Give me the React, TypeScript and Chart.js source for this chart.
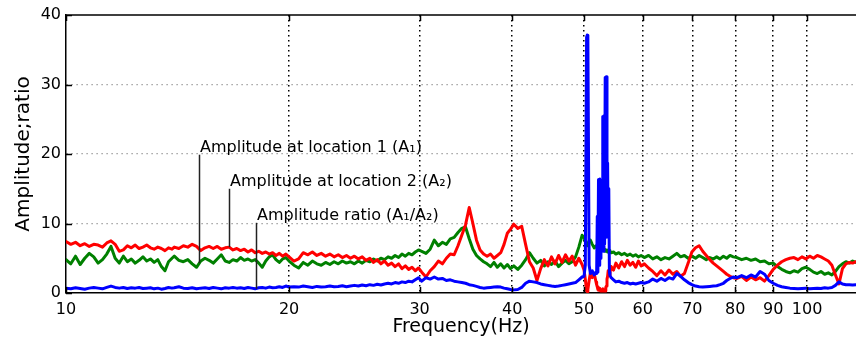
import React, { useEffect, useRef } from 'react';
import { Chart, registerables } from 'chart.js';

Chart.register(...registerables);

// Frequency samples (Hz), shared by all three series
const freq = [
  10, 10.15, 10.3, 10.45, 10.6, 10.75, 10.9, 11.05, 11.2, 11.35, 11.5, 11.65, 11.8, 11.95, 12.1, 12.25, 12.4, 12.55, 12.7, 12.85, 13, 13.15, 13.3, 13.45, 13.6, 13.75, 13.9,
  14, 14.2, 14.4, 14.6, 14.8, 15, 15.2, 15.4, 15.6, 15.8, 16, 16.2, 16.4, 16.6, 16.8, 17, 17.2, 17.4, 17.6, 17.8, 18, 18.2, 18.4, 18.6, 18.8, 19, 19.2, 19.4, 19.6, 19.8, 20,
  20.3, 20.6, 20.9, 21.2, 21.5, 21.8, 22.1, 22.4, 22.7, 23, 23.3, 23.6, 23.9, 24.2, 24.5, 24.8, 25.1, 25.4, 25.7, 26, 26.3, 26.6, 26.9, 27.2, 27.5, 27.8, 28.1, 28.4, 28.7, 29, 29.3, 29.6, 29.9,
  30.2, 30.6, 31, 31.4, 31.8, 32.2, 32.6, 33, 33.4, 33.8, 34.2, 34.6, 35, 35.4, 35.8, 36.2, 36.6, 37, 37.4, 37.8, 38.2, 38.6, 39, 39.4, 39.8,
  40.2, 40.7, 41.2, 41.7, 42.2, 42.7, 43.2, 43.7, 44.2, 44.7, 45.2, 45.7, 46.2, 46.7, 47.2, 47.7, 48.2, 48.7, 49.2, 49.7,
  50, 50.2, 50.4, 50.5, 50.6, 50.8, 51, 51.3, 51.6, 51.9,
  52, 52.1, 52.2, 52.3, 52.4, 52.5, 52.6, 52.7, 52.8, 52.9, 53, 53.1, 53.2, 53.3, 53.4, 53.5, 53.6, 53.7, 53.8, 53.9, 54, 54.1, 54.2,
  54.4, 54.8, 55.2,
  55.7, 56.2, 56.7, 57.2, 57.7, 58.2, 58.7, 59.2, 59.7,
  60.3, 61.1, 61.9, 62.7, 63.5, 64.3, 65.1, 65.9, 66.7, 67.5, 68.3, 69.1, 69.9, 70.7, 71.5, 72.3, 73.1, 73.9, 74.7, 75.5, 76.3, 77.1, 77.9, 78.7, 79.5,
  80.4, 81.6, 82.8, 84, 85.2, 86.4, 87.6, 88.8, 90, 91.2, 92.4, 93.6, 94.8, 96, 97.2, 98.4, 99.6, 100.8, 102, 103.2, 104.4, 105.6, 106.8, 108, 109.2, 110.4, 111.6, 112.8, 114, 115.2, 116.4,
];

// Amplitude at location 1 (A1) - green
const ampLoc1 = [
  4.8, 4.2, 5.3, 4.1, 5.0, 5.7, 5.2, 4.3, 4.8, 5.6, 6.7, 5.0, 4.3, 5.3, 4.5, 4.9, 4.3, 4.7, 5.2, 4.6, 4.9, 4.4, 4.8, 3.8, 3.2, 4.5, 5.0,
  5.3, 4.7, 4.5, 4.8, 4.2, 3.7, 4.6, 5.0, 4.7, 4.3, 4.9, 5.5, 4.6, 4.4, 4.8, 4.6, 5.1, 4.7, 4.9, 4.6, 4.8, 4.3, 3.7, 4.6, 5.2, 5.5, 4.8, 4.4, 4.9, 5.1, 4.6,
  4.0, 3.6, 4.4, 4.0, 4.6, 4.2, 4.0, 4.4, 4.1, 4.5, 4.2, 4.6, 4.3, 4.5, 4.2, 4.6, 4.3, 4.7, 4.5, 4.9, 4.6, 5.0, 4.8, 5.2, 5.0, 5.4, 5.1, 5.6, 5.3, 5.7, 5.5, 5.9, 6.2,
  6.0, 5.7, 6.3, 7.6, 6.8, 7.3, 7.0, 7.8, 8.0, 8.7, 9.3, 9.5, 7.8, 6.3, 5.4, 4.9, 4.5, 4.2, 3.8, 4.4, 3.7, 4.2, 3.6, 4.1, 3.5,
  3.9, 3.4, 4.0, 4.8, 5.8, 5.0, 4.3, 4.7, 3.9, 4.5, 4.1, 4.6, 3.8, 4.3, 4.7, 4.2, 4.5, 5.2, 6.6, 8.3,
  8.0, 7.4, 7.0, 6.8, 7.1, 7.5, 7.6, 7.0, 6.5, 6.8,
  6.6, 6.4, 6.7, 6.6, 6.4, 6.3, 6.5, 6.2, 6.4, 6.3, 6.1, 6.4, 6.2, 6.3, 6.0, 6.2, 6.1, 6.2, 5.9, 6.0, 6.1, 6.1, 5.9,
  5.8, 5.9, 5.6,
  5.8, 5.5, 5.7, 5.4, 5.6, 5.3, 5.5, 5.2, 5.4,
  5.1, 5.4, 4.9, 5.2, 4.8, 5.1, 4.9, 5.3, 5.7, 5.2, 5.4, 5.0, 5.3, 5.0, 5.4, 5.1, 4.8, 5.1, 4.9, 5.2, 4.9, 5.3, 5.0, 5.4, 5.2,
  5.1, 4.8, 5.0, 4.7, 4.9, 4.5, 4.6, 4.2, 4.3, 3.8, 3.4, 3.1, 2.9, 3.2, 3.0, 3.5, 3.7, 3.4, 3.0, 2.8, 3.1, 2.7, 2.9, 2.6, 3.1, 3.8, 4.2, 4.5, 4.3, 4.6, 4.4,
];

// Amplitude at location 2 (A2) - red
const ampLoc2 = [
  7.4, 7.0, 7.3, 6.8, 7.1, 6.7, 7.0, 6.9, 6.6, 7.2, 7.5, 7.0, 6.0, 6.2, 6.8, 6.5, 6.9, 6.4, 6.6, 6.9, 6.5, 6.3, 6.6, 6.4, 6.1, 6.5, 6.3,
  6.6, 6.4, 6.8, 6.6, 7.0, 6.7, 6.1, 6.5, 6.7, 6.4, 6.7, 6.3, 6.5, 6.6, 6.2, 6.4, 6.1, 6.3, 5.9, 6.2, 5.8, 6.0, 5.7, 5.9, 5.6, 5.8, 5.4, 5.7, 5.3, 5.6, 5.2,
  4.6, 4.9, 5.8, 5.5, 5.9, 5.4, 5.7, 5.3, 5.6, 5.2, 5.5, 5.1, 5.4, 5.0, 5.3, 4.9, 5.2, 4.7, 5.0, 4.4, 4.8, 4.2, 4.6, 4.0, 4.3, 3.8, 4.2, 3.5, 3.9, 3.4, 3.7, 3.2, 3.6,
  3.0, 2.3, 3.2, 3.8, 4.6, 4.2, 5.0, 5.6, 5.5, 6.8, 8.3, 9.8, 12.3, 10.0, 7.6, 6.2, 5.6, 5.3, 5.6, 5.0, 5.4, 5.8, 7.0, 8.6, 9.2,
  9.9, 9.3, 9.6, 7.0, 4.5, 3.6, 1.8, 3.5, 4.8, 3.9, 5.2, 4.2, 5.4, 4.4, 5.5, 4.6, 5.3, 4.0, 5.0, 4.1,
  3.3, 2.0, 0.3, 0.2, 0.5, 1.8, 2.9, 2.2, 2.8, 1.6,
  1.2, 0.9, 0.5, 0.4, 0.7, 0.6, 0.3, 0.5, 0.4, 0.3, 0.6, 0.4, 0.3, 0.5, 0.3, 0.8, 1.0, 2.0, 2.4, 3.2, 2.8, 2.5, 3.0,
  3.8, 3.3, 4.3,
  3.6, 4.5, 3.8, 4.7, 4.0, 4.4, 3.7, 4.6, 3.9,
  4.2, 3.6, 3.1, 2.5, 3.2, 2.6, 3.3, 2.7, 3.1, 2.4, 2.8, 4.3, 5.9, 6.5, 6.8, 6.0, 5.4, 4.8, 4.3, 3.9, 3.5, 3.1, 2.7, 2.4, 2.2,
  2.1, 2.4, 1.8, 2.3, 1.9, 2.2, 1.7, 2.5, 3.4, 4.0, 4.5, 4.8, 5.0, 5.1, 4.8, 5.2, 4.9, 5.3, 5.0, 5.4, 5.2, 4.9, 4.6, 4.0, 2.6, 1.3, 3.5, 4.2, 4.4, 4.3, 4.5,
];

// Amplitude ratio (A1/A2) - blue
const ampRatio = [
  0.7, 0.6, 0.75, 0.65, 0.55, 0.7, 0.8, 0.7, 0.6, 0.8, 1.0, 0.8, 0.7, 0.8, 0.65, 0.75, 0.7, 0.8, 0.65, 0.7, 0.75, 0.6, 0.7, 0.55, 0.65, 0.8, 0.7,
  0.75, 0.9, 0.7, 0.65, 0.75, 0.6, 0.7, 0.75, 0.65, 0.8, 0.7, 0.6, 0.75, 0.7, 0.8, 0.7, 0.75, 0.65, 0.8, 0.7, 0.6, 0.75, 0.8, 0.7, 0.85, 0.75, 0.8, 0.9, 0.8, 1.0, 0.85,
  0.9, 0.85, 1.0, 0.9, 0.8, 0.95, 0.85, 0.9, 1.0, 0.9, 0.95, 1.05, 0.9, 1.0, 1.1, 1.0, 1.15, 1.05, 1.2, 1.1, 1.25, 1.15, 1.3, 1.4, 1.3, 1.5, 1.4, 1.6, 1.5, 1.7, 1.6, 1.9, 2.2,
  1.7, 2.2, 2.0, 2.3, 2.0, 2.1, 1.8, 1.9, 1.7, 1.6, 1.5, 1.4, 1.2, 1.1, 0.95, 0.8, 0.7, 0.75, 0.8, 0.85, 0.9, 0.85, 0.7, 0.6, 0.5,
  0.45, 0.5, 0.8, 1.4, 1.7, 1.6, 1.5, 1.3, 1.2, 1.1, 1.0, 0.95, 1.0, 1.1, 1.2, 1.3, 1.4, 1.5, 1.9, 2.3,
  2.4, 4.0, 36.8, 37.1, 36.8, 4.0, 2.8, 3.2, 2.6, 3.0,
  2.8, 11.0, 3.0, 16.3, 4.0, 16.4, 5.0, 16.2, 8.5, 9.0, 25.4, 6.0, 25.5, 7.0, 31.0, 8.0, 31.1, 10.0, 18.7, 8.0, 15.0, 3.0, 2.5,
  2.2, 1.9, 1.6,
  1.7, 1.5, 1.4, 1.5, 1.3, 1.4, 1.3, 1.4, 1.5,
  1.4, 1.6, 2.0, 1.7, 2.1, 1.8, 2.2, 2.0, 2.8, 2.4, 1.9, 1.5, 1.2, 1.0, 0.9, 0.85, 0.9, 0.95, 1.0, 1.05, 1.2, 1.4, 1.8, 2.1, 2.3,
  2.2, 2.5, 2.2, 2.6, 2.3, 3.1, 2.7, 1.8, 1.4, 1.1, 0.9, 0.8, 0.7, 0.65, 0.6, 0.65, 0.7, 0.6, 0.65, 0.7, 0.65, 0.75, 0.7, 0.8, 1.1, 1.6, 1.3, 1.2, 1.2, 1.15, 1.2,
];

const xTicks = [10, 20, 30, 40, 50, 60, 70, 80, 90, 100];
const yTicks = [0, 10, 20, 30, 40];

const annoLabels = ['Amplitude at location 1 (A₁)', 'Amplitude at location 2 (A₂)', 'Amplitude ratio (A₁/A₂)'];
const annoFreq = [15.12, 16.6, 18.05];
const annoTop = [19.9, 15.0, 10.1];
const annoBottom = [4.3, 6.6, 0.6];

const FONT = '"DejaVu Sans", sans-serif';

const framePlugin = {
  id: 'frameAndNotes',
  afterDatasetsDraw(chart: any) {
    const { ctx, chartArea, scales } = chart;
    const { left, right, top, bottom } = chartArea;
    const x = scales.x;
    const y = scales.y;
    ctx.save();
    ctx.strokeStyle = '#000';
    ctx.lineWidth = 1.5;
    ctx.beginPath();
    ctx.moveTo(left, top);
    ctx.lineTo(right, top);
    for (const t of xTicks) {
      const px = Math.round(x.getPixelForValue(t)) + 0.5;
      ctx.moveTo(px, bottom);
      ctx.lineTo(px, bottom - 6);
      ctx.moveTo(px, top);
      ctx.lineTo(px, top + 6);
    }
    for (const t of yTicks) {
      const py = Math.round(y.getPixelForValue(t)) + 0.5;
      ctx.moveTo(left, py);
      ctx.lineTo(left + 6, py);
    }
    ctx.stroke();

    ctx.strokeStyle = '#222';
    ctx.lineWidth = 1.5;
    ctx.fillStyle = '#000';
    ctx.font = '16px ' + FONT;
    ctx.textBaseline = 'alphabetic';
    ctx.textAlign = 'left';
    for (let i = 0; i < annoLabels.length; i++) {
      const px = Math.round(x.getPixelForValue(annoFreq[i])) + 0.5;
      const pt = y.getPixelForValue(annoTop[i]);
      const pb = y.getPixelForValue(annoBottom[i]);
      ctx.beginPath();
      ctx.moveTo(px, pt);
      ctx.lineTo(px, pb);
      ctx.stroke();
      ctx.fillText(annoLabels[i], px + 0.5, pt - 3);
    }
    ctx.restore();
  },
};

export default function App() {
  const ref = useRef<HTMLCanvasElement | null>(null);

  useEffect(() => {
    document.body.style.margin = '0';
    const canvas = ref.current;
    if (!canvas) return;
    Chart.defaults.font.family = FONT;
    const mk = (vals: number[]) => freq.map((f, i) => ({ x: f, y: vals[i] }));
    const common = {
      pointRadius: 0,
      borderWidth: 3,
      tension: 0,
      fill: false,
      borderJoinStyle: 'round' as const,
      borderCapStyle: 'round' as const,
    };
    const chart = new Chart(canvas, {
      type: 'line',
      data: {
        datasets: [
          { label: 'Amplitude ratio (A1/A2)', data: mk(ampRatio), borderColor: '#0000ff', order: 0, ...common },
          { label: 'Amplitude at location 2 (A2)', data: mk(ampLoc2), borderColor: '#ff0000', order: 1, ...common },
          { label: 'Amplitude at location 1 (A1)', data: mk(ampLoc1), borderColor: '#008000', order: 2, ...common },
        ],
      },
      options: {
        animation: false,
        responsive: false,
        maintainAspectRatio: false,
        parsing: false as any,
        normalized: true,
        layout: { padding: { top: 15, right: 0, left: 0, bottom: 0 } },
        plugins: { legend: { display: false }, tooltip: { enabled: false } },
        events: [],
        scales: {
          x: {
            type: 'logarithmic',
            min: 10,
            max: 116.4,
            afterBuildTicks: (s: any) => {
              s.ticks = xTicks.map((v) => ({ value: v }));
            },
            afterFit: (s: any) => {
              s.height = 55;
            },
            ticks: {
              callback: (v: any) => String(v),
              font: { size: 16, family: FONT },
              color: '#000',
              padding: 7,
              maxRotation: 0,
              autoSkip: false,
            },
            grid: {
              color: (c: any) => (c.tick && c.tick.value === 10 ? 'rgba(0,0,0,0)' : '#000'),
              lineWidth: 1.5,
              drawTicks: false,
            },
            border: { display: true, color: '#000', width: 1.5, dash: [1.5, 3.5] },
            title: {
              display: true,
              text: 'Frequency(Hz)',
              font: { size: 19, family: FONT },
              color: '#000',
              padding: { top: 0, bottom: 10 },
            },
          },
          y: {
            type: 'linear',
            min: 0,
            max: 40,
            afterBuildTicks: (s: any) => {
              s.ticks = yTicks.map((v) => ({ value: v }));
            },
            afterFit: (s: any) => {
              s.width = 66;
            },
            ticks: {
              font: { size: 16, family: FONT },
              color: '#000',
              padding: 5,
            },
            grid: {
              color: (c: any) =>
                c.tick && (c.tick.value === 0 || c.tick.value === 40) ? 'rgba(0,0,0,0)' : '#8a8a8a',
              lineWidth: 1.2,
              drawTicks: false,
            },
            border: { display: true, color: '#000', width: 1.5, dash: [1.2, 3.8] },
            title: {
              display: true,
              text: 'Amplitude;ratio',
              font: { size: 20, family: FONT },
              color: '#000',
              padding: { top: 12, bottom: 0 },
            },
          },
        },
      },
      plugins: [framePlugin],
    });
    return () => chart.destroy();
  }, []);

  return (
    <div style={{ width: 856, height: 348 }}>
      <canvas ref={ref} width={856} height={348} style={{ display: 'block', width: 856, height: 348 }} />
    </div>
  );
}
